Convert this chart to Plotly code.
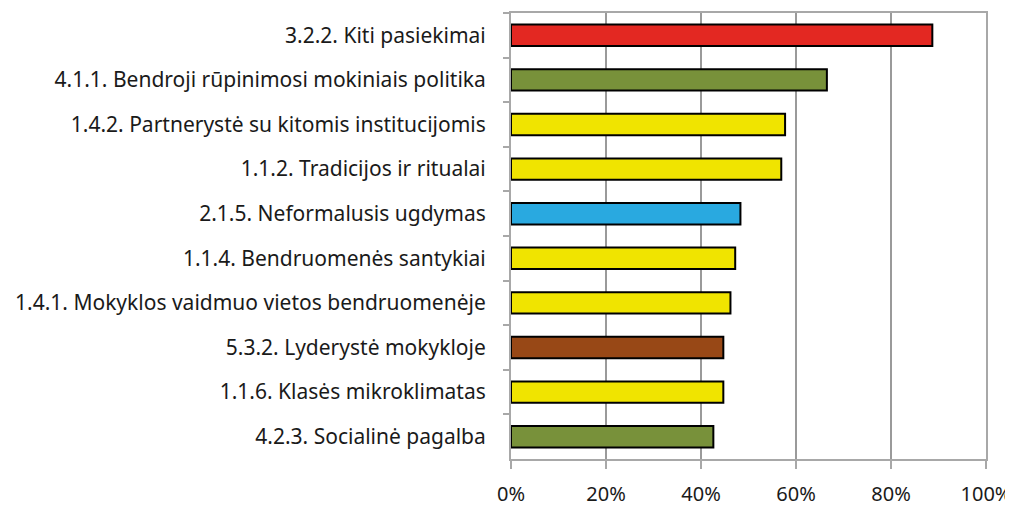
import plotly.graph_objects as go

categories = [
    "3.2.2. Kiti pasiekimai",
    "4.1.1. Bendroji rūpinimosi mokiniais politika",
    "1.4.2. Partnerystė su kitomis institucijomis",
    "1.1.2. Tradicijos ir ritualai",
    "2.1.5. Neformalusis ugdymas",
    "1.1.4. Bendruomenės santykiai",
    "1.4.1. Mokyklos vaidmuo vietos bendruomenėje",
    "5.3.2. Lyderystė mokykloje",
    "1.1.6. Klasės mikroklimatas",
    "4.2.3. Socialinė pagalba",
]
values = [0.887, 0.665, 0.577, 0.569, 0.483, 0.472, 0.462, 0.447, 0.447, 0.426]
colors = ["#E32822", "#78913A", "#F0E400", "#F0E400", "#29A9E0",
          "#F0E400", "#F0E400", "#984816", "#F0E400", "#78913A"]
x_ticks = [0, 0.2, 0.4, 0.6, 0.8, 1.0]
x_tick_labels = ["0%", "20%", "40%", "60%", "80%", "100%"]

fig = go.Figure(go.Bar(
    x=values, y=categories, orientation="h",
    marker=dict(color=colors, line=dict(color="#000000", width=2)),
))

fig.update_layout(
    width=1005, height=499,
    margin=dict(l=503, r=27, t=5, b=48),
    paper_bgcolor="white", plot_bgcolor="white",
    bargap=0.52,
    showlegend=False,
    font=dict(family="Noto Sans", size=21, color="#1a1a1a"),
)
fig.update_xaxes(
    range=[0, 1.0], tickvals=x_ticks, ticktext=x_tick_labels,
    showgrid=True, gridcolor="#9a9a9a", gridwidth=2,
    showline=True, linecolor="#a8a8a8", linewidth=2, mirror=True,
    ticks="outside", ticklen=8, tickcolor="#a8a8a8", tickwidth=2,
    zeroline=False, tickfont=dict(size=20), automargin=False,
    ticklabelstandoff=8,
)
fig.update_yaxes(
    autorange="reversed", categoryorder="array", categoryarray=categories,
    showline=True, linecolor="#a8a8a8", linewidth=2, mirror=True,
    ticks="outside", ticklen=6, tickcolor="#a8a8a8", tickwidth=2,
    tickson="boundaries", showgrid=False, ticklabelstandoff=19,
    tickfont=dict(size=21), automargin=False,
)

fig.write_html("out.html")
